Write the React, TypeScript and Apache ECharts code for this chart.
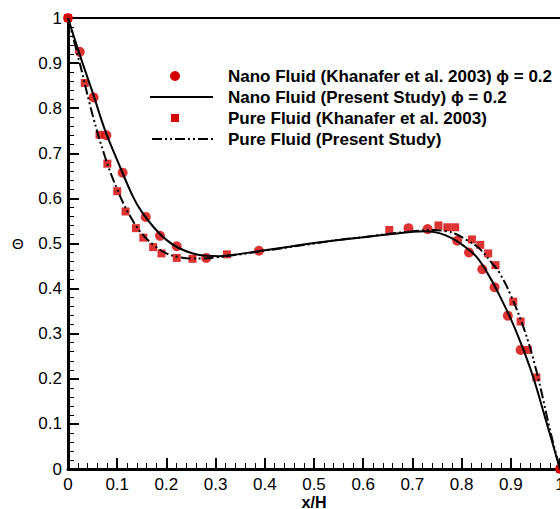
import React, { useEffect, useRef } from "react";
import * as echarts from "echarts";

// Nano Fluid (Khanafer et al. 2003) phi = 0.2  — circles
const nanoRefX = [0, 0.024, 0.052, 0.078, 0.111, 0.158, 0.187, 0.221, 0.281, 0.388, 0.692, 0.731, 0.791, 0.815, 0.842, 0.867, 0.894, 0.92, 1.0];
const nanoRefY = [1, 0.925, 0.824, 0.74, 0.657, 0.559, 0.517, 0.494, 0.468, 0.484, 0.534, 0.532, 0.506, 0.48, 0.443, 0.403, 0.34, 0.264, 0.0];

// Pure Fluid (Khanafer et al. 2003) — squares
const pureRefX = [0, 0.034, 0.064, 0.08, 0.1, 0.117, 0.138, 0.153, 0.173, 0.19, 0.221, 0.253, 0.323, 0.653, 0.753, 0.771, 0.787, 0.821, 0.838, 0.854, 0.869, 0.905, 0.92, 0.935, 0.952, 1.0];
const pureRefY = [1, 0.856, 0.741, 0.677, 0.616, 0.571, 0.534, 0.513, 0.492, 0.478, 0.468, 0.466, 0.476, 0.53, 0.54, 0.536, 0.536, 0.509, 0.497, 0.478, 0.452, 0.371, 0.327, 0.264, 0.203, 0.0];

// Nano Fluid (Present Study) phi = 0.2 — solid line
const nanoStudyX = [0, 0.025, 0.05, 0.075, 0.1, 0.132, 0.15, 0.175, 0.2, 0.225, 0.254, 0.28, 0.308, 0.35, 0.4, 0.45, 0.5, 0.55, 0.6, 0.65, 0.7, 0.727, 0.755, 0.78, 0.8, 0.83, 0.857, 0.877, 0.904, 0.931, 0.948, 0.971, 1];
const nanoStudyY = [1, 0.915, 0.835, 0.752, 0.685, 0.604, 0.57, 0.535, 0.508, 0.49, 0.478, 0.473, 0.472, 0.477, 0.485, 0.493, 0.501, 0.508, 0.514, 0.52, 0.526, 0.527, 0.523, 0.512, 0.498, 0.471, 0.426, 0.385, 0.323, 0.249, 0.195, 0.109, 0];

// Pure Fluid (Present Study) — dash-dot-dot line
const pureStudyX = [0, 0.025, 0.05, 0.075, 0.1, 0.125, 0.15, 0.175, 0.2, 0.225, 0.25, 0.275, 0.3, 0.35, 0.4, 0.45, 0.5, 0.55, 0.6, 0.65, 0.7, 0.741, 0.77, 0.788, 0.81, 0.835, 0.862, 0.877, 0.9, 0.927, 0.951, 0.982, 1];
const pureStudyY = [1, 0.895, 0.785, 0.693, 0.62, 0.563, 0.522, 0.496, 0.478, 0.47, 0.467, 0.467, 0.469, 0.476, 0.484, 0.492, 0.5, 0.508, 0.514, 0.521, 0.527, 0.53, 0.527, 0.521, 0.508, 0.49, 0.456, 0.435, 0.385, 0.31, 0.222, 0.076, 0];

const legendLabels = [
  "Nano Fluid (Khanafer et al. 2003) \u03d5 = 0.2",
  "Nano Fluid (Present Study) \u03d5 = 0.2",
  "Pure Fluid (Khanafer et al. 2003)",
  "Pure Fluid (Present Study)",
];

const zip = (xs: number[], ys: number[]) => xs.map((x, i) => [x, ys[i]]);

const FONT = "'Liberation Sans', Arial, sans-serif";
const RED = "#d40000";
const DASH = [10, 3, 2, 3, 2, 3];

export default function App() {
  const ref = useRef<HTMLDivElement>(null);
  useEffect(() => {
    const chart = echarts.init(ref.current!, null, { renderer: "svg" });
    const fmt = (v: number) => String(+v.toFixed(1));
    const axisCommon = {
      type: "value",
      min: 0,
      max: 1,
      interval: 0.1,
      axisLine: { show: true, lineStyle: { color: "#000", width: 3 } },
      axisTick: { show: true, inside: true, length: 11, lineStyle: { color: "#000", width: 2 } },
      minorTick: { show: true, splitNumber: 5, length: 6, lineStyle: { color: "#000", width: 1 } },
      splitLine: { show: false },
      axisLabel: { color: "#000", fontSize: 17, fontFamily: FONT, formatter: fmt },
    };
    const legendY = [76, 97, 118, 139];
    chart.setOption({
      animation: false,
      backgroundColor: "#fff",
      grid: { left: 68, top: 18, right: 0, bottom: 40, containLabel: false, outerBoundsMode: "none" },
      xAxis: [
        {
          ...axisCommon,
          position: "bottom",
          axisLabel: { ...axisCommon.axisLabel, margin: 7 },
          name: "x/H",
          nameLocation: "middle",
          nameGap: 25,
          nameMoveOverlap: false,
          nameTextStyle: { color: "#000", fontSize: 16, fontWeight: "bold", fontFamily: FONT },
        },
        {
          type: "value",
          min: 0,
          max: 1,
          position: "top",
          axisLine: { show: true, lineStyle: { color: "#000", width: 2 } },
          axisTick: { show: false },
          axisLabel: { show: false },
          splitLine: { show: false },
        },
      ],
      yAxis: {
        ...axisCommon,
        axisLabel: { ...axisCommon.axisLabel, margin: 6 },
      },
      graphic: [
        {
          type: "text",
          left: 12,
          top: 236,
          style: { text: "\u0398", fontSize: 15, fontFamily: FONT, fill: "#000" },
        },
        { type: "circle", shape: { cx: 175, cy: legendY[0], r: 5 }, style: { fill: RED } },
        { type: "line", shape: { x1: 150, y1: legendY[1], x2: 213, y2: legendY[1] }, style: { stroke: "#000", lineWidth: 2 } },
        { type: "rect", shape: { x: 171, y: legendY[2] - 4, width: 8, height: 8 }, style: { fill: RED } },
        { type: "line", shape: { x1: 152, y1: legendY[3], x2: 213, y2: legendY[3] }, style: { stroke: "#000", lineWidth: 2, lineDash: DASH } },
        ...legendLabels.map((t, i) => ({
          type: "text",
          x: 228,
          y: legendY[i],
          style: {
            text: t,
            fontSize: 17,
            fontWeight: "bold",
            fontFamily: FONT,
            fill: "#000",
            verticalAlign: "middle",
            align: "left",
          },
        })),
      ],
      series: [
        {
          name: legendLabels[0],
          type: "scatter",
          symbol: "circle",
          symbolSize: 10,
          itemStyle: { color: RED },
          data: zip(nanoRefX, nanoRefY),
          clip: false,
        },
        {
          name: legendLabels[2],
          type: "scatter",
          symbol: "rect",
          symbolSize: 8,
          itemStyle: { color: RED },
          data: zip(pureRefX, pureRefY),
          clip: false,
        },
        {
          name: legendLabels[1],
          type: "line",
          showSymbol: false,
          smooth: 0.4,
          lineStyle: { color: "#000", width: 2 },
          data: zip(nanoStudyX, nanoStudyY),
        },
        {
          name: legendLabels[3],
          type: "line",
          showSymbol: false,
          smooth: 0.4,
          lineStyle: { color: "#000", width: 2, type: DASH },
          data: zip(pureStudyX, pureStudyY),
        },
      ],
    });
    return () => chart.dispose();
  }, []);
  return <div ref={ref} style={{ position: "fixed", left: 0, top: 0, width: 560, height: 509 }} />;
}
